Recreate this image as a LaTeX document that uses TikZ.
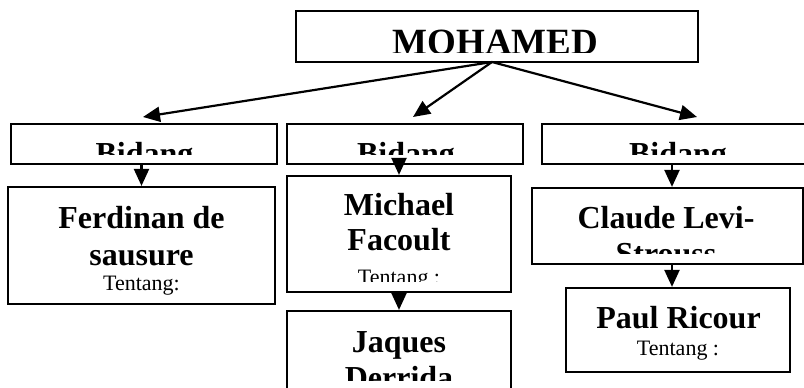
\documentclass[tikz,border=0pt]{standalone}
\usepackage{fontspec}
\setmainfont{Liberation Serif}
\usetikzlibrary{arrows.meta,calc}
\begin{document}
\begin{tikzpicture}[x=1pt,y=-1pt,
  box/.style={draw, line width=2.2pt, inner sep=0pt, rectangle},
  arr/.style={-{Triangle[length=17pt,width=15pt]}, line width=2.2pt},
  big/.style={font=\fontsize{32}{36}\selectfont\bfseries, anchor=base, inner sep=0pt},
  huge/.style={font=\fontsize{37}{40}\selectfont\bfseries, anchor=base, inner sep=0pt},
  small/.style={font=\fontsize{22}{26}\selectfont, anchor=base, inner sep=0pt}]
\useasboundingbox[fill=white] (0,0) rectangle (804,388);
% boxes
\node[box, minimum width=402pt, minimum height=51pt] (mo) at (497,36.5) {};
\node[box, minimum width=266pt, minimum height=40pt] (b1) at (144,144) {};
\node[box, minimum width=236pt, minimum height=40pt] (b2) at (405,144) {};
\node[box, minimum width=272pt, minimum height=40pt] (b3) at (678,144) {};
\node[box, minimum width=267pt, minimum height=117pt] (f) at (141.5,245.5) {};
\node[box, minimum width=224pt, minimum height=116pt] (m) at (399,234) {};
\node[box, minimum width=224pt, minimum height=110pt] (j) at (399,366) {};
\node[box, minimum width=271pt, minimum height=76pt] (c) at (667.5,226) {};
\node[box, minimum width=224pt, minimum height=84pt] (p) at (678,330) {};
% texts (clipped as in the original)
\begin{scope}
\clip (296,11) rectangle (698,52);
\node[huge] (tmo) at (495.5,54.5) {MOHAMED};
\end{scope}
\begin{scope}
\clip (0,124) rectangle (804,154);
\node[big] (tb1) at (144.5,164) {Bidang};
\node[big] (tb2) at (406,164) {Bidang};
\node[big] (tb3) at (678,164) {Bidang};
\end{scope}
\node[big] (tf1) at (141.5,228) {Ferdinan de};
\node[big] (tf2) at (141.5,265) {sausure};
\node[small] (tf3) at (141.5,290) {Tentang:};
\node[big] (tm1) at (399,215) {Michael};
\node[big] (tm2) at (399,250) {Facoult};
\begin{scope}
\clip (287,176) rectangle (511,281);
\node[small] (tm3) at (399,284) {Tentang :};
\end{scope}
\node[big] (tc1) at (666,228) {Claude Levi-};
\begin{scope}
\clip (532,188) rectangle (803,253);
\node[big] (tc2) at (666,264) {Strouss};
\end{scope}
\node[big] (tp1) at (678.5,328) {Paul Ricour};
\node[small] (tp2) at (678,355) {Tentang :};
\node[big] (tj1) at (399,352) {Jaques};
\begin{scope}
\clip (287,311) rectangle (511,380);
\node[big] (tj2) at (399,388) {Derrida};
\end{scope}
% connectors
\coordinate (o) at (492,62);
\coordinate (t1) at (143,117);
\coordinate (t2) at (413,117);
\coordinate (t3) at (697,117);
\draw[arr] (o) -- (t1);
\draw[arr] (o) -- (t2);
\draw[arr] (o) -- (t3);
\draw[arr] (b1.south -| f.north) -- (f.north);
\draw[arr] (b2.south -| m.north) -- (m.north);
\draw[arr] (m.south) -- (j.north);
\coordinate (ca) at ($(c.north)+(4.5,0)$);
\coordinate (cb) at ($(c.south)+(4.5,0)$);
\draw[arr] (ca |- b3.south) -- (ca);
\draw[arr] (cb) -- (cb |- p.north);
\end{tikzpicture}
\end{document}
